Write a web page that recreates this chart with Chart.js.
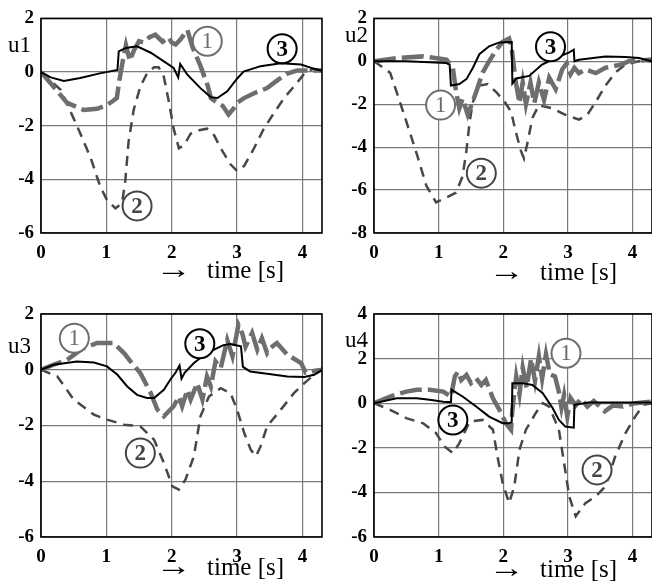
<!DOCTYPE html>
<html>
<head>
<meta charset="utf-8">
<script src="https://cdn.jsdelivr.net/npm/chart.js@4.4.1/dist/chart.umd.min.js"></script>
<style>
  body { margin: 0; background: #fff; }
  #wrap { position: relative; width: 652px; height: 582px; overflow: hidden; background: #fff; }
  canvas { position: absolute; }
</style>
</head>
<body>
<div id="wrap">
  <canvas id="p1" width="326" height="290" style="left:0;top:0"></canvas>
  <canvas id="p2" width="322" height="290" style="left:330px;top:0"></canvas>
  <canvas id="p3" width="326" height="292" style="left:0;top:290px"></canvas>
  <canvas id="p4" width="322" height="292" style="left:330px;top:290px"></canvas>
</div>
<script>
// time axis ticks (s)
const timeTicks = [0, 1, 2, 3, 4]
const u1Ticks = [-6, -4, -2, 0, 2]
const u2Ticks = [-8, -6, -4, -2, 0, 2]
const u3Ticks = [-6, -4, -2, 0, 2]
const u4Ticks = [-6, -4, -2, 0, 2, 4]

// [time, value]; curve 1 = gray thick dashed, 2 = thin dashed, 3 = black
const u1Curve1 = [[0,0],[0.19,-0.54],[0.4,-1.15],[0.65,-1.41],[0.86,-1.37],[1.0,-1.24],[1.1,-1.08],[1.16,-0.97],[1.2,-0.3],[1.25,0.4],[1.3,1.0],[1.36,0.42],[1.42,0.8],[1.5,1.15],[1.57,1.1],[1.66,1.3],[1.75,1.39],[1.86,1.13],[1.95,1.3],[2.0,1.1],[2.06,1.03],[2.13,1.2],[2.24,1.57],[2.32,0.92],[2.44,0.23],[2.55,-0.5],[2.6,-0.97],[2.7,-1.15],[2.78,-1.26],[2.87,-1.58],[2.95,-1.35],[3.0,-1.15],[3.1,-0.98],[3.26,-0.79],[3.46,-0.6],[3.62,-0.3],[3.77,-0.06],[3.92,0.06],[4.13,0.06],[4.3,0.06]]
const u1Curve2 = [[0,0],[0.3,-0.66],[0.55,-2.0],[0.76,-3.2],[0.91,-4.29],[1.01,-4.77],[1.14,-5.08],[1.24,-4.89],[1.29,-4.05],[1.34,-2.6],[1.42,-1.39],[1.52,-0.54],[1.62,-0.06],[1.73,0.18],[1.8,0.18],[1.88,-0.18],[1.96,-1.15],[2.03,-2.11],[2.11,-2.84],[2.19,-2.72],[2.29,-2.3],[2.42,-2.17],[2.54,-2.11],[2.65,-2.36],[2.75,-2.84],[2.9,-3.44],[3.0,-3.69],[3.11,-3.5],[3.26,-2.84],[3.41,-2.11],[3.57,-1.51],[3.72,-0.97],[3.87,-0.54],[4.03,-0.06],[4.16,0.12],[4.3,0.06]]
const u1Curve3 = [[0,0],[0.15,-0.2],[0.35,-0.33],[0.6,-0.22],[0.9,-0.05],[1.17,0.08],[1.19,0.77],[1.3,0.9],[1.47,0.96],[1.68,0.72],[1.88,0.4],[2.03,0.15],[2.1,-0.2],[2.13,0.3],[2.24,-0.1],[2.44,-0.6],[2.6,-0.94],[2.7,-0.97],[2.85,-0.72],[3.0,-0.25],[3.1,0.02],[3.36,0.22],[3.67,0.33],[3.98,0.28],[4.18,0.12],[4.3,0.05]]

const u2Curve1 = [[0,0],[0.35,0.15],[0.76,0.23],[1.12,0.08],[1.22,-0.3],[1.27,-1.43],[1.32,-2.19],[1.37,-1.74],[1.45,-2.49],[1.5,-2.1],[1.58,-1.43],[1.68,-0.53],[1.78,0],[1.89,0.53],[1.99,0.91],[2.09,1.06],[2.13,0.6],[2.19,-0.9],[2.25,-1.95],[2.3,-0.98],[2.35,-2.0],[2.42,-1.0],[2.48,-1.95],[2.55,-0.98],[2.63,-1.8],[2.71,-0.76],[2.81,-1.3],[2.91,-0.38],[2.98,-0.1],[3.04,-0.6],[3.1,-0.3],[3.17,-0.55],[3.27,-0.38],[3.43,-0.55],[3.58,-0.3],[3.83,-0.15],[3.94,0],[4.3,0.08]]
const u2Curve2 = [[0,0],[0.25,-0.53],[0.45,-2.34],[0.66,-4.3],[0.81,-5.8],[0.96,-6.57],[1.07,-6.42],[1.27,-6.12],[1.37,-5.36],[1.43,-4.15],[1.48,-2.8],[1.53,-1.89],[1.63,-1.13],[1.76,-1.06],[1.89,-1.43],[2.02,-1.89],[2.12,-2.34],[2.19,-3.25],[2.27,-4.15],[2.32,-4.53],[2.37,-3.85],[2.45,-2.64],[2.55,-2.04],[2.76,-2.19],[2.96,-2.49],[3.17,-2.72],[3.3,-2.49],[3.43,-1.89],[3.58,-1.13],[3.73,-0.53],[3.89,-0.15],[4.09,0],[4.3,0]]
const u2Curve3 = [[0,0],[0.5,0],[1.12,-0.08],[1.17,-0.15],[1.19,-1.13],[1.32,-1.06],[1.43,-0.83],[1.53,-0.3],[1.63,0.33],[1.78,0.7],[1.94,0.88],[2.13,0.9],[2.14,-1.04],[2.2,-0.8],[2.4,-0.68],[2.6,-0.15],[2.81,0.15],[3.02,0.42],[3.09,0.54],[3.1,0],[3.17,0.07],[3.58,0.23],[3.89,0.2],[4.1,0.15],[4.3,0]]

const u3Curve1 = [[0,0],[0.19,0.18],[0.4,0.36],[0.65,0.78],[0.86,0.96],[1.11,0.96],[1.27,0.6],[1.37,0.3],[1.52,-0.12],[1.68,-0.84],[1.78,-1.43],[1.88,-1.67],[2.03,-1.31],[2.11,-0.96],[2.16,-1.31],[2.24,-0.72],[2.29,-1.07],[2.39,-0.48],[2.47,-1.07],[2.54,-0.24],[2.6,-0.6],[2.67,0.3],[2.75,0.06],[2.85,1.07],[2.93,0.48],[3.02,1.61],[3.08,1.3],[3.13,0.83],[3.23,1.32],[3.31,0.72],[3.38,1.13],[3.46,0.6],[3.52,0.8],[3.61,0.96],[3.77,0.54],[3.98,0.24],[4.05,-0.1],[4.13,-0.06],[4.3,0]]
const u3Curve2 = [[0,0],[0.25,-0.24],[0.5,-1.07],[0.81,-1.61],[1.01,-1.79],[1.27,-1.97],[1.52,-2.03],[1.73,-2.51],[1.88,-3.34],[2.01,-4.18],[2.11,-4.3],[2.21,-3.94],[2.34,-3.1],[2.44,-1.67],[2.57,-0.96],[2.75,-0.66],[2.9,-0.84],[3.0,-1.43],[3.11,-2.27],[3.21,-2.87],[3.29,-3.1],[3.36,-2.75],[3.46,-2.03],[3.67,-1.43],[3.87,-0.84],[4.03,-0.48],[4.18,-0.18],[4.3,0]]
const u3Curve3 = [[0,0],[0.19,0.18],[0.55,0.3],[0.81,0.26],[1.01,0.12],[1.17,-0.18],[1.32,-0.6],[1.47,-0.9],[1.62,-1.01],[1.73,-1.01],[1.88,-0.72],[1.98,-0.35],[2.06,-0.1],[2.12,0.15],[2.15,-0.32],[2.2,-0.1],[2.34,0.24],[2.54,0.6],[2.79,0.88],[2.9,0.92],[3.06,0.84],[3.09,0.1],[3.2,-0.06],[3.46,-0.14],[3.77,-0.24],[4.03,-0.26],[4.18,-0.18],[4.3,0]]

const u4Curve1 = [[0,0],[0.25,0.3],[0.5,0.52],[0.66,0.6],[0.86,0.6],[1.07,0.52],[1.19,0.3],[1.25,1.19],[1.3,1.42],[1.35,1.04],[1.43,1.27],[1.5,0.9],[1.58,1.12],[1.66,0.82],[1.73,1.04],[1.84,0.22],[1.94,-0.3],[2.04,-0.9],[2.12,-1.19],[2.14,-0.3],[2.2,1.2],[2.25,0.4],[2.3,1.6],[2.36,0.7],[2.43,2.0],[2.49,1.0],[2.55,2.1],[2.6,1.1],[2.66,2.2],[2.72,1.3],[2.8,1.2],[2.86,0.5],[2.9,-0.2],[2.94,0.37],[2.99,-0.6],[3.04,0.24],[3.12,-0.1],[3.2,0.2],[3.3,-0.15],[3.4,0.1],[3.57,-0.37],[3.7,-0.1],[3.85,-0.15],[4.04,0],[4.3,0.07]]
const u4Curve2 = [[0,0],[0.25,-0.3],[0.5,-0.67],[0.76,-0.9],[0.96,-1.34],[1.09,-1.94],[1.22,-2.24],[1.32,-1.79],[1.48,-0.82],[1.68,-0.75],[1.84,-1.19],[1.91,-2.39],[1.99,-3.58],[2.09,-4.48],[2.17,-3.73],[2.25,-2.09],[2.35,-1.19],[2.5,-0.45],[2.61,0],[2.71,-0.15],[2.86,-1.19],[2.94,-2.69],[3.02,-4.18],[3.12,-5.07],[3.27,-4.48],[3.43,-4.18],[3.58,-3.73],[3.73,-2.39],[3.89,-1.34],[4.04,-0.6],[4.17,-0.07],[4.3,0]]
const u4Curve3 = [[0,0],[0.35,0.22],[0.66,0.22],[0.86,0.15],[1.07,0.07],[1.19,0.05],[1.2,0.6],[1.37,0.3],[1.58,-0.15],[1.78,-0.6],[1.99,-0.9],[2.09,-0.9],[2.13,-0.85],[2.14,0.9],[2.3,0.9],[2.45,0.82],[2.61,0.45],[2.76,-0.2],[2.86,-0.75],[2.96,-1.05],[3.09,-1.1],[3.1,-0.07],[3.32,0.03],[4.3,0.03]]

// circled curve numbers: [time, value, number]
const u1Marks = [[2.545,1.15,'1'],[1.47,-4.99,'2'],[3.69,0.87,'3']]
const u2Marks = [[1.03,-2.04,'1'],[1.66,-5.21,'2'],[2.73,0.68,'3']]
const u3Marks = [[0.51,1.13,'1'],[1.52,-2.99,'2'],[2.43,0.93,'3']]
const u4Marks = [[2.97,2.24,'1'],[3.45,-2.99,'2'],[1.22,-0.75,'3']]

const SERIF = "'Liberation Serif', 'Times New Roman', serif"
const markStyle = {
    '1': { color: '#6e6e6e', weight: 'normal' },
    '2': { color: '#454545', weight: 'bold' },
    '3': { color: '#000000', weight: 'bold' },
}

const toXY = (pts) => pts.map(([x, y]) => ({ x, y }))

const extras = {
    id: 'extras',
    afterDatasetsDraw(chart, args, opts) {
        const { ctx, chartArea: a, scales } = chart
        ctx.save()
        // frame
        ctx.strokeStyle = '#000'
        ctx.lineWidth = 1.6
        ctx.strokeRect(a.left, a.top, a.right - a.left, a.bottom - a.top)

        // circled numbers
        opts.marks.forEach(([t, v, n]) => {
            const x = scales.x.getPixelForValue(t)
            const y = scales.y.getPixelForValue(v)
            const st = markStyle[n]
            ctx.beginPath()
            ctx.arc(x, y, 14.5, 0, Math.PI * 2)
            ctx.fillStyle = '#fff'
            ctx.fill()
            ctx.lineWidth = 2
            ctx.strokeStyle = st.color
            ctx.stroke()
            ctx.fillStyle = st.color
            ctx.font = `${st.weight} 23px ${SERIF}`
            ctx.textAlign = 'center'
            ctx.textBaseline = 'middle'
            ctx.fillText(n, x, y + 1)
        })

        // axis captions
        ctx.fillStyle = '#000'
        ctx.textAlign = 'left'
        ctx.textBaseline = 'alphabetic'
        ctx.font = `23px ${SERIF}`
        ctx.fillText(opts.name, a.left + opts.nameDx, a.top + opts.nameDy)
        ctx.font = `25px ${SERIF}`
        ctx.fillText('time [s]', a.left + 166, a.bottom + opts.capDy)

        // the arrow glyph is small in the installed fonts, stretch its ink to ~23px
        ctx.font = `22px ${SERIF}`
        ctx.textBaseline = 'middle'
        const m = ctx.measureText('\u2192')
        const ink = (m.actualBoundingBoxLeft + m.actualBoundingBoxRight) || m.width || 1
        const sx = 23 / ink
        ctx.translate(a.left + 121 + m.actualBoundingBoxLeft * sx, a.bottom + opts.capDy - 7)
        ctx.scale(sx, 1.25)
        ctx.fillText('\u2192', 0, 0)
        ctx.restore()
    },
}

function makePanel(id, p) {
    return new Chart(document.getElementById(id), {
        type: 'line',
        data: {
            datasets: [
                {
                    data: toXY(p.c3),
                    borderColor: '#000',
                    borderWidth: 2,
                    order: 0,
                },
                {
                    data: toXY(p.c1),
                    borderColor: '#6e6e6e',
                    borderWidth: 4.5,
                    borderDash: [22, 6],
                    order: 1,
                },
                {
                    data: toXY(p.c2),
                    borderColor: '#474747',
                    borderWidth: 2.5,
                    borderDash: [10, 7],
                    order: 2,
                },
            ],
        },
        options: {
            responsive: false,
            animation: false,
            elements: { point: { radius: 0 }, line: { tension: 0, borderCapStyle: 'butt' } },
            layout: { padding: { top: p.top, right: p.right, left: 0, bottom: 0 } },
            plugins: {
                legend: { display: false },
                tooltip: { enabled: false },
                extras: p.extras,
            },
            scales: {
                x: {
                    type: 'linear',
                    min: 0,
                    max: 4.3,
                    afterBuildTicks: (s) => { s.ticks = timeTicks.map((v) => ({ value: v })) },
                    afterFit: (s) => { s.height = p.xh },
                    grid: { color: '#7a7a7a', lineWidth: 1.2, drawTicks: false },
                    border: { display: false },
                    ticks: {
                        padding: 9,
                        color: '#000',
                        font: { family: SERIF, size: 19, weight: 'bold' },
                    },
                },
                y: {
                    min: p.yTicks[0],
                    max: p.yTicks[p.yTicks.length - 1],
                    afterBuildTicks: (s) => { s.ticks = p.yTicks.map((v) => ({ value: v })) },
                    afterFit: (s) => { s.width = p.yw },
                    grid: { color: '#7a7a7a', lineWidth: 1.2, drawTicks: false },
                    border: { display: false },
                    ticks: {
                        padding: 7,
                        color: '#000',
                        font: { family: SERIF, size: 19, weight: 'bold' },
                    },
                },
            },
        },
        plugins: [extras],
    })
}

makePanel('p1', { c1: u1Curve1, c2: u1Curve2, c3: u1Curve3, yTicks: u1Ticks, top: 13, right: 4, xh: 57, yw: 41,
    extras: { marks: u1Marks, name: 'u1', nameDx: -33, nameDy: 34, capDy: 45 } })
makePanel('p2', { c1: u2Curve1, c2: u2Curve2, c3: u2Curve3, yTicks: u2Ticks, top: 13, right: 0, xh: 57, yw: 44,
    extras: { marks: u2Marks, name: 'u2', nameDx: -29, nameDy: 24, capDy: 47 } })
makePanel('p3', { c1: u3Curve1, c2: u3Curve2, c3: u3Curve3, yTicks: u3Ticks, top: 24, right: 4, xh: 45, yw: 41,
    extras: { marks: u3Marks, name: 'u3', nameDx: -33, nameDy: 39, capDy: 38 } })
makePanel('p4', { c1: u4Curve1, c2: u4Curve2, c3: u4Curve3, yTicks: u4Ticks, top: 24, right: 0, xh: 45, yw: 44,
    extras: { marks: u4Marks, name: 'u4', nameDx: -29, nameDy: 33, capDy: 40 } })
</script>
</body>
</html>
